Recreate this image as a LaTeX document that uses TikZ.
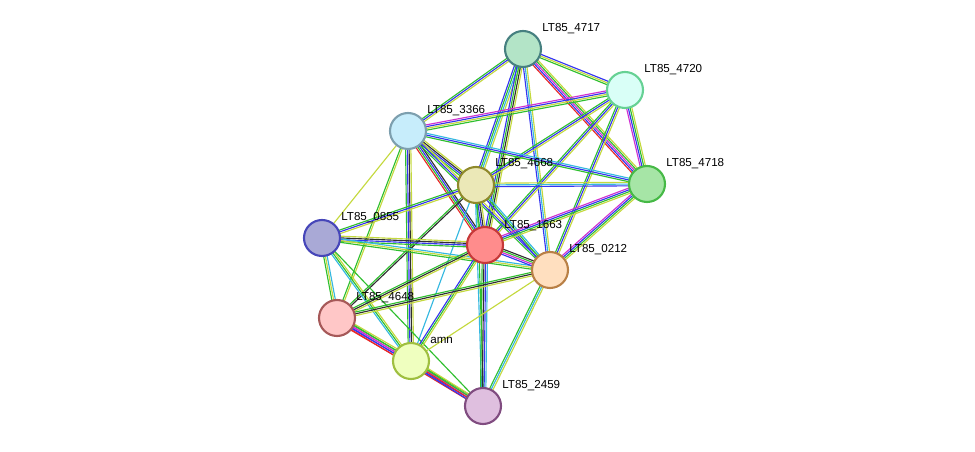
\documentclass[tikz,border=0pt]{standalone}
\usepackage{fontspec}
\setmainfont{Liberation Sans}
\usetikzlibrary{calc,backgrounds}

\definecolor{tm}{HTML}{C4D93E}
\definecolor{nb}{HTML}{2FBF2F}
\definecolor{co}{HTML}{3535F0}
\definecolor{db}{HTML}{35B8E0}
\definecolor{ex}{HTML}{D030D0}
\definecolor{fu}{HTML}{E82828}
\definecolor{cx}{HTML}{303030}

\newcommand\link[3]{%
  \foreach \c [count=\n] in {#3} {\xdef\nn{\n}}%
  \foreach \c [count=\k] in {#3} {%
    \pgfmathsetmacro\o{(\k-(\nn+1)/2)*1.0}%
    \draw[\c, line width=0.65pt] ($(#1)!\o pt!90:(#2)$) -- ($(#2)!\o pt!-90:(#1)$);
  }%
}

\begin{document}
\begin{tikzpicture}[x=0.02cm, y=-0.02cm,
  prot/.style 2 args = {circle, minimum size=0.72cm, inner sep=0pt,
    line width=1.2pt, draw=#1, fill=#2},
  lab/.style = {font=\fontsize{6.6}{7}\selectfont, inner sep=0pt, anchor=base west}
  ]
  \useasboundingbox (0,0) rectangle (975,452);

  \node[prot={teal!45!gray}{cyan!25!green!30!white}] (p4717) at (523,49) {};
  \node[prot={green!40!teal!60!white}{green!20!cyan!15!white}] (p4720) at (625,90) {};
  \node[prot={cyan!30!gray}{cyan!22!white}] (p3366) at (408,131) {};
  \node[prot={olive!70!gray}{yellow!55!gray!40!white}] (p4668) at (476,185) {};
  \node[prot={green!45!gray}{green!55!gray!45!white}] (p4718) at (647,184) {};
  \node[prot={blue!45!gray}{blue!35!gray!50!white}] (p0855) at (322,238) {};
  \node[prot={red!55!gray}{red!45!white}] (p1663) at (485,245) {};
  \node[prot={orange!45!gray}{orange!25!white}] (p0212) at (550,270) {};
  \node[prot={red!30!gray}{red!22!white}] (p4648) at (337,318) {};
  \node[prot={lime!50!gray}{lime!25!white}] (amn) at (411,361) {};
  \node[prot={violet!40!gray}{violet!25!white}] (p2459) at (483,406) {};

  \node[lab] at (542,32) {LT85\_4717};
  \node[lab] at (644,73) {LT85\_4720};
  \node[lab] at (427,114) {LT85\_3366};
  \node[lab] at (495,167) {LT85\_4668};
  \node[lab] at (666,167) {LT85\_4718};
  \node[lab] at (341,221) {LT85\_0855};
  \node[lab] at (504,229) {LT85\_1663};
  \node[lab] at (569,253) {LT85\_0212};
  \node[lab] at (356,301) {LT85\_4648};
  \node[lab] at (430,344) {amn};
  \node[lab] at (502,389) {LT85\_2459};

  \begin{pgfonlayer}{background}
    \link{p4717}{p4720}{nb,tm,co}
    \link{p4717}{p3366}{nb,co,tm}
    \link{p4717}{p4668}{co,nb,db,tm}
    \link{p4717}{p4718}{fu,co,ex,nb,tm}
    \link{p4717}{p1663}{co,nb,cx,tm}
    \link{p4717}{p0212}{co,db,tm}
    \link{p4720}{p3366}{ex,co,tm,nb}
    \link{p4720}{p4668}{nb,co,tm}
    \link{p4720}{p4718}{ex,co,nb,tm}
    \link{p4720}{p1663}{nb,co,tm}
    \link{p4720}{p0212}{nb,co,tm}
    \link{p3366}{p4668}{nb,co,cx,tm}
    \link{p3366}{p4718}{nb,co,db}
    \link{p3366}{p1663}{fu,nb,co,cx}
    \link{p3366}{p0212}{nb,co,tm}
    \link{p3366}{p0855}{tm}
    \link{p3366}{p4648}{nb,tm}
    \link{p3366}{amn}{nb,co,cx,tm}
    \link{p4668}{p4718}{co,db,tm}
    \link{p4668}{p0855}{nb,co,tm}
    \link{p4668}{p1663}{nb,co,cx,tm}
    \link{p4668}{p0212}{co,nb,db}
    \link{p4668}{p4648}{nb,cx}
    \link{p4668}{amn}{db}
    \link{p4668}{p2459}{db,nb}
    \link{p4718}{p1663}{ex,co,nb,tm}
    \link{p4718}{p0212}{ex,co,nb,tm}
    \link{p0855}{p1663}{nb,co,cx,tm}
    \link{p0855}{p0212}{nb,tm,db}
    \link{p0855}{p4648}{nb,tm,db}
    \link{p0855}{amn}{db,nb,tm}
    \link{p0855}{p2459}{nb}
    \link{p1663}{p0212}{co,ex,nb,cx}
    \link{p1663}{p4648}{nb,cx,tm}
    \link{p1663}{amn}{co,nb,tm}
    \link{p1663}{p2459}{nb,cx,co,db}
    \link{p0212}{p4648}{nb,cx,tm}
    \link{p0212}{amn}{tm}
    \link{p0212}{p2459}{nb,db,tm}
    \link{p4648}{amn}{fu,co,ex,nb,tm}
    \link{p4648}{p2459}{fu,co,ex,nb}
    \link{amn}{p2459}{co,fu,nb,tm}
  \end{pgfonlayer}
\end{tikzpicture}
\end{document}
